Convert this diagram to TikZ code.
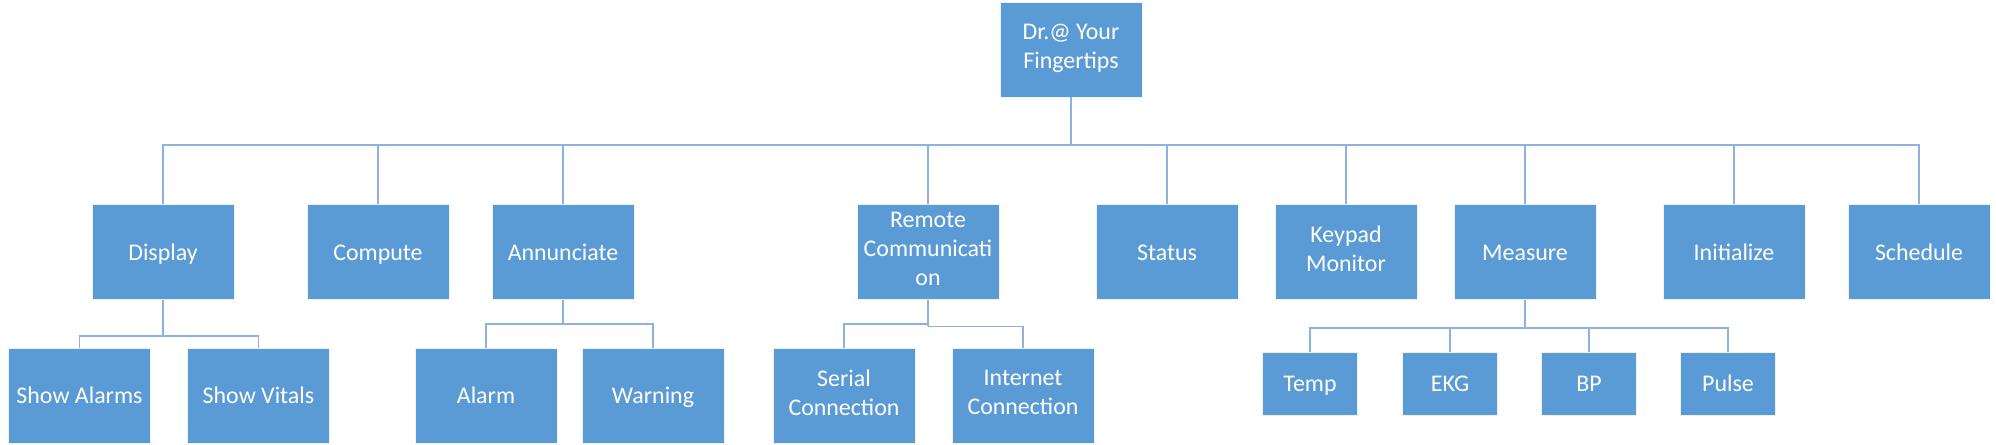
\documentclass[tikz,border=0pt]{standalone}
\usepackage{fontspec}
\setmainfont{Carlito}
\definecolor{boxblue}{RGB}{91,155,213}
\definecolor{edgeblue}{RGB}{236,242,250}
\definecolor{lineblue}{RGB}{140,178,222}
\newcommand{\boxstrut}{\rule[-0.21\baselineskip]{0pt}{\baselineskip}}
\tikzset{
  box/.style={rectangle, fill=boxblue, draw=edgeblue, line width=0.4pt, text=white,
    minimum width=2.84cm, minimum height=1.9cm, inner sep=1pt, align=center,
    font=\fontsize{13.6}{16.6}\selectfont,
    execute at begin node=\boxstrut, execute at end node=\boxstrut},
  smallbox/.style={box, minimum width=1.9cm, minimum height=1.26cm},
  link/.style={draw=lineblue, line width=1.1pt}
}
\begin{document}
\begin{tikzpicture}[x=0.02cm, y=-0.02cm]
  \useasboundingbox (0,0) rectangle (1996,445);

  % root
  \node[box] (root) at (1071,49.5) {Dr.@ Your\\Fingertips};
  \coordinate (bus) at (1071,145);

  % first level
  \node[box] (display)    at (163,252)  {Display};
  \node[box] (compute)    at (378,252)  {Compute};
  \node[box] (annunciate) at (563,252)  {Annunciate};
  \node[box] (remote)     at (928,252)  {Remote\\Communicati\\on};
  \node[box] (status)     at (1167,252) {Status};
  \node[box] (keypad)     at (1346,252) {Keypad\\Monitor};
  \node[box] (measure)    at (1525,252) {Measure};
  \node[box] (initialize) at (1734,252) {Initialize};
  \node[box] (schedule)   at (1919,252) {Schedule};

  \draw[link] (root.south) -- (bus);
  \foreach \n in {display,compute,annunciate,remote,status,keypad,measure,initialize,schedule}
    \draw[link] (bus) -| (\n.north);

  % display
  \node[box] (showalarms) at (79.5,395.5)  {Show Alarms};
  \node[box] (showvitals) at (258.5,395.5) {Show Vitals};
  \coordinate (dispbus) at (163,336);
  \draw[link] (display.south) -- (dispbus);
  \draw[link] (dispbus) -| (showalarms.north);
  \draw[link] (dispbus) -| (showvitals.north);

  % annunciate
  \node[box] (alarm)   at (486,395.5) {Alarm};
  \node[box] (warning) at (653,395.5) {Warning};
  \coordinate (annbus) at (563,324);
  \draw[link] (annunciate.south) -- (annbus);
  \draw[link] (annbus) -| (alarm.north);
  \draw[link] (annbus) -| (warning.north);

  % remote communication
  \node[box] (serial)   at (844,395.5)  {Serial\\Connection};
  \node[box] (internet) at (1023,395.5) {Internet\\Connection};
  \coordinate (rembus) at (928,324);
  \coordinate (rembusb) at (928,326.5);
  \draw[link] (remote.south) -- (rembusb);
  \draw[link] (rembus) -| (serial.north);
  \draw[link] (rembusb) -| (internet.north);

  % measure
  \node[smallbox] (temp)  at (1310,383.5) {Temp};
  \node[smallbox] (ekg)   at (1450,383.5) {EKG};
  \node[smallbox] (bp)    at (1589,383.5) {BP};
  \node[smallbox] (pulse) at (1728,383.5) {Pulse};
  \coordinate (measbus) at (1525,328);
  \draw[link] (measure.south) -- (measbus);
  \foreach \n in {temp,ekg,bp,pulse}
    \draw[link] (measbus) -| (\n.north);
\end{tikzpicture}
\end{document}
